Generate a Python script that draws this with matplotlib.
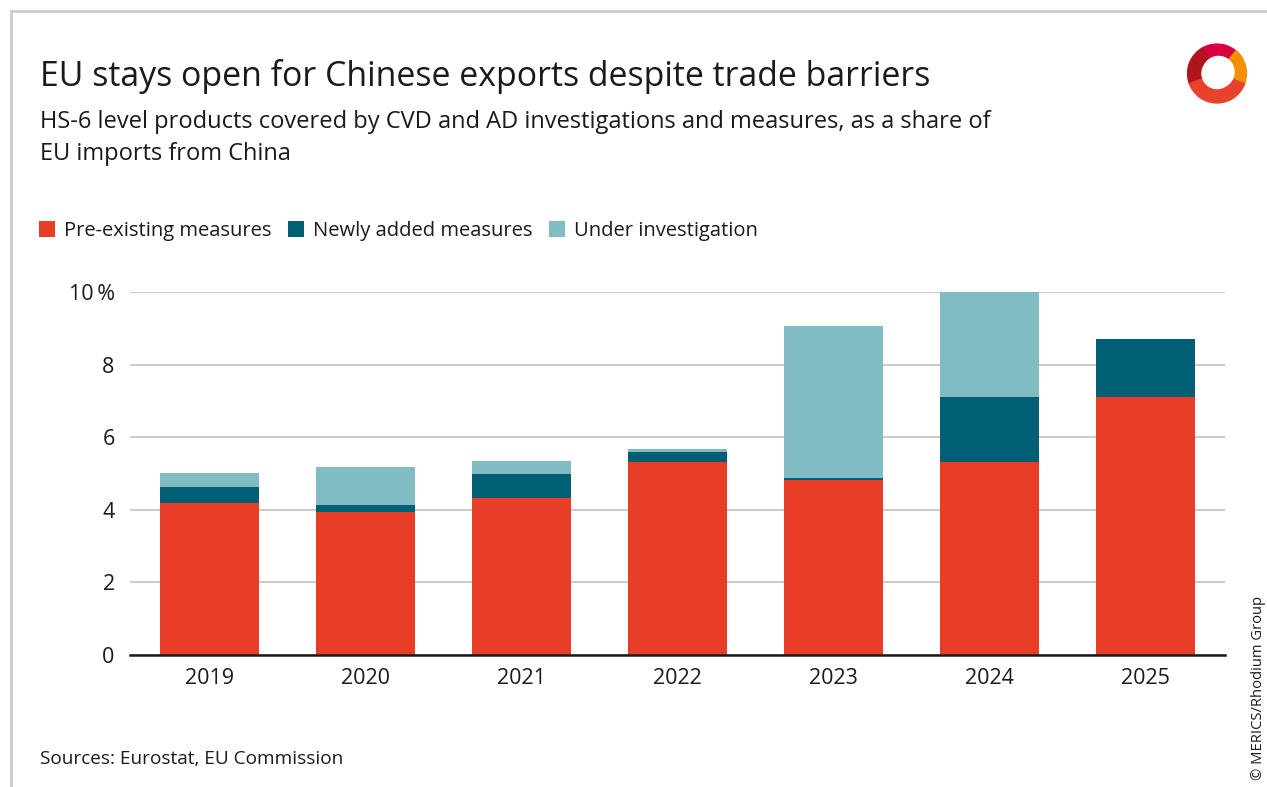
import matplotlib
matplotlib.use("Agg")
import matplotlib.pyplot as plt
import matplotlib.patches as patches
from matplotlib.lines import Line2D

plt.rcParams['font.family'] = ['Open Sans', 'DejaVu Sans']

# Share of EU imports from China (%), HS-6 products under CVD/AD measures
years = ["2019", "2020", "2021", "2022", "2023", "2024", "2025"]
pre_existing = [4.19, 3.94, 4.33, 5.32, 4.82, 5.32, 7.11]
newly_added = [0.44, 0.19, 0.66, 0.27, 0.06, 1.79, 1.59]
under_investigation = [0.38, 1.05, 0.35, 0.08, 4.18, 2.92, 0.0]

series_names = ["Pre-existing measures", "Newly added measures", "Under investigation"]
colors = ["#e83d27", "#005f74", "#81bcc3"]
text_color = "#1a1a1a"

fig = plt.figure(figsize=(12.67, 7.87), dpi=100)
W, H = 1267, 787

def fx(px):
    return px / W

def fy(py):
    return 1 - py / H

ax = fig.add_axes([fx(130), fy(655), fx(1225) - fx(130), fy(292) - fy(655)])

x = range(len(years))
bottom = [0.0] * len(years)
for vals, col in zip([pre_existing, newly_added, under_investigation], colors):
    ax.bar(x, vals, width=0.635, bottom=bottom, color=col, zorder=2, linewidth=0)
    bottom = [b + v for b, v in zip(bottom, vals)]

ax.set_xlim(-0.51, 6.51)
ax.set_ylim(0, 10)
ax.set_yticks([0, 2, 4, 6, 8, 10])
ax.set_yticklabels(["0", "2", "4", "6", "8", "10\u2009%"])
ax.set_xticks(list(x))
ax.set_xticklabels(years)
ax.grid(axis="y", color="#cccccc", linewidth=1.5, zorder=0)
for s in ["top", "right", "left"]:
    ax.spines[s].set_visible(False)
ax.spines["bottom"].set_color(text_color)
ax.spines["bottom"].set_linewidth(1.8)
ax.spines["bottom"].set_zorder(3)
ax.tick_params(axis="both", length=0, labelsize=15.5, colors=text_color)
ax.tick_params(axis="y", pad=11)
ax.tick_params(axis="x", pad=9)

# titles and notes
fig.text(fx(40), fy(86), "EU stays open for Chinese exports despite trade barriers",
         fontsize=24.4, color=text_color, va="baseline")
fig.text(fx(40), fy(128), "HS-6 level products covered by CVD and AD investigations and measures, as a share of",
         fontsize=17, color=text_color, va="baseline")
fig.text(fx(40), fy(160), "EU imports from China",
         fontsize=17, color=text_color, va="baseline")
fig.text(fx(40), fy(764), "Sources: Eurostat, EU Commission",
         fontsize=13.7, color=text_color, va="baseline")
fig.text(fx(1259), fy(780), "\u00a9 MERICS/Rhodium Group", rotation=90,
         fontsize=10.6, color=text_color, ha="center", va="bottom")

# legend
handles = [Line2D([], [], marker="s", linestyle="none", markersize=11,
                  markerfacecolor=c, markeredgewidth=0) for c in colors]
fig.legend(handles, series_names, loc="center left", bbox_to_anchor=(fx(19), fy(231)),
           ncol=3, frameon=False, fontsize=14.5, handletextpad=0.35, columnspacing=0.7,
           handlelength=1.0, labelcolor=text_color)

# frame lines
fig.add_artist(Line2D([fx(11), fx(11)], [fy(11), 0], color="#cccccc", linewidth=2))
fig.add_artist(Line2D([fx(11), 1], [fy(11), fy(11)], color="#cccccc", linewidth=2))

# logo
lax = fig.add_axes([fx(1186), fy(105), fx(62), fy(42) - fy(105)])
lax.set_xlim(-1, 1)
lax.set_ylim(-1, 1)
lax.set_aspect("equal")
lax.axis("off")
for t1, t2, c in [(30, 120, "#d9003f"), (-20, 50, "#f39200"), (120, 200, "#b0141c"),
                  (200, 340, "#e8412c")]:
    lax.add_patch(patches.Wedge((0, 0), 0.95, t1, t2, width=0.42, color=c))
lax.add_patch(patches.Circle((0.05, 0.05), 0.5, color="white"))

fig.savefig("out.png", dpi=100)
